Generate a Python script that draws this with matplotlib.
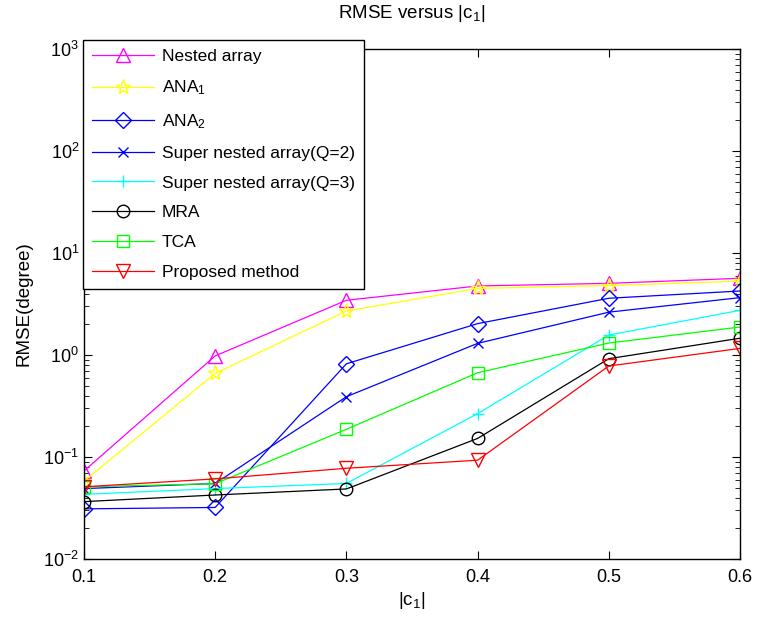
import matplotlib
matplotlib.use("Agg")
import matplotlib.pyplot as plt
from matplotlib.ticker import LogLocator, NullFormatter

plt.rcParams["font.family"] = ["Liberation Sans", "DejaVu Sans"]
plt.rcParams["mathtext.fontset"] = "custom"
plt.rcParams["mathtext.rm"] = "Liberation Sans"
plt.rcParams["mathtext.it"] = "Liberation Sans"
plt.rcParams["font.size"] = 13

# Data
c1 = [0.1, 0.2, 0.3, 0.4, 0.5, 0.6]
nested = [0.073, 0.98, 3.44, 4.75, 5.04, 5.65]
ana1 = [0.058, 0.66, 2.70, 4.5, 4.8, 5.3]
ana2 = [0.031, 0.032, 0.82, 2.03, 3.6, 4.24]
sna_q2 = [0.049, 0.055, 0.39, 1.30, 2.63, 3.65]
sna_q3 = [0.043, 0.049, 0.055, 0.266, 1.57, 2.74]
mra = [0.0365, 0.0424, 0.0486, 0.152, 0.92, 1.46]
tca = [0.051, 0.0547, 0.187, 0.67, 1.31, 1.88]
proposed = [0.051, 0.061, 0.0775, 0.093, 0.78, 1.16]

labels = ["Nested array", "ANA$_1$", "ANA$_2$", "Super nested array(Q=2)",
          "Super nested array(Q=3)", "MRA", "TCA", "Proposed method"]

fig = plt.figure(figsize=(7.58, 6.18), dpi=100)
ax = fig.add_axes([0.1108, 0.0955, 0.8655, 0.8252])

lw = 0.9
ax.plot(c1, nested, color="magenta", marker="^", ms=10, mfc="none", lw=lw, label=labels[0])
ax.plot(c1, ana1, color="yellow", marker="*", ms=11, mfc="none", lw=lw, label=labels[1])
ax.plot(c1, ana2, color="blue", marker="D", ms=8, mfc="none", lw=lw, label=labels[2])
ax.plot(c1, sna_q2, color="blue", marker="x", ms=7, lw=lw, label=labels[3])
ax.plot(c1, sna_q3, color="cyan", marker="+", ms=9, lw=lw, label=labels[4])
ax.plot(c1, mra, color="black", marker="o", ms=9, mfc="none", lw=lw, label=labels[5])
ax.plot(c1, tca, color="lime", marker="s", ms=8, mfc="none", lw=lw, label=labels[6])
ax.plot(c1, proposed, color="red", marker="v", ms=10, mfc="none", lw=lw, label=labels[7])

ax.set_yscale("log")
ax.set_ylim(1e-2, 1e3)
ax.set_xlim(0.1, 0.6)
ax.set_xticks(c1)
ax.set_xticklabels(["0.1", "0.2", "0.3", "0.4", "0.5", "0.6"])
ax.yaxis.set_major_locator(LogLocator(base=10, numticks=10))
ax.yaxis.set_minor_locator(LogLocator(base=10, subs=range(2, 10), numticks=20))
ax.yaxis.set_minor_formatter(NullFormatter())
ax.tick_params(which="both", direction="in", top=True, right=True, labelsize=13)
ax.tick_params(axis="x", pad=7)
ax.tick_params(which="major", length=6)
ax.tick_params(which="minor", length=3.5)
for s in ax.spines.values():
    s.set_linewidth(1.0)

ax.set_title("RMSE versus |c$_1$|", fontsize=13.5, pad=22)
ax.set_xlabel("|c$_1$|", fontsize=13.5, labelpad=3)
ax.set_ylabel("RMSE(degree)", fontsize=13.5, labelpad=8)

leg = ax.legend(loc="upper left", bbox_to_anchor=(83 / 758, 1 - 40 / 618),
                bbox_transform=fig.transFigure, fancybox=False, framealpha=1,
                edgecolor="black", fontsize=12.5, handlelength=3.6,
                handletextpad=0.45, labelspacing=0.85, borderaxespad=0,
                borderpad=0.5)
leg.get_frame().set_linewidth(1.0)

fig.savefig("out.png", dpi=100)
